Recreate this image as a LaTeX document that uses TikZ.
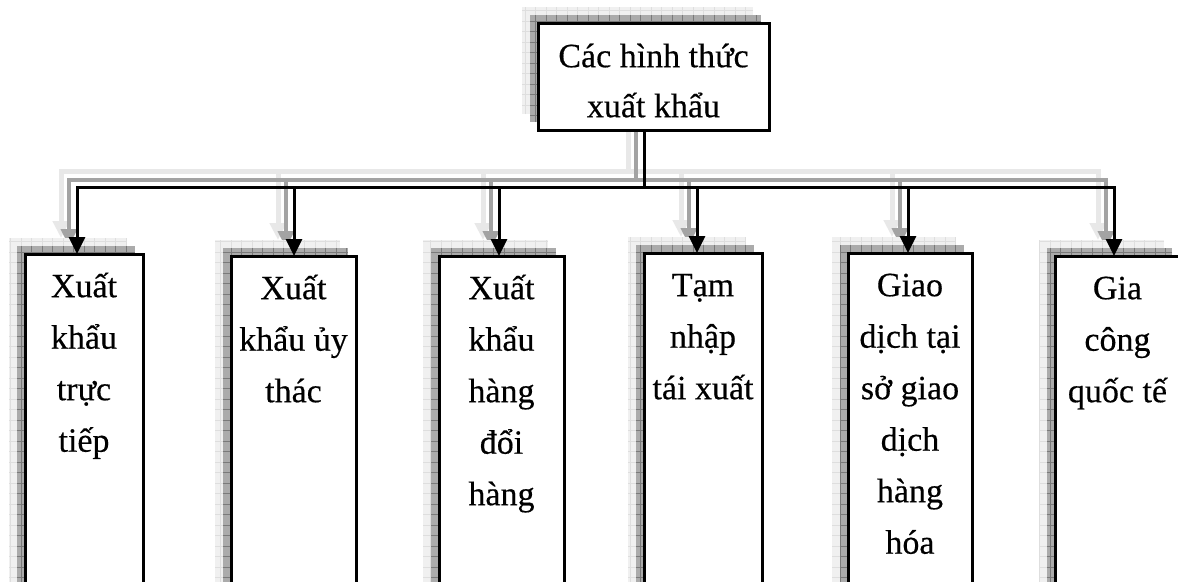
\documentclass[tikz,border=0pt]{standalone}
\usepackage{fontspec}
\setmainfont[FakeBold=0.4]{Liberation Serif}
\usetikzlibrary{arrows.meta}
\pgfdeclarelayer{bg}
\pgfdeclarelayer{lsh}
\pgfdeclarelayer{bsh}
\pgfsetlayers{bg,lsh,bsh,main}
\newcommand\fl{\rule{0pt}{36pt}}
\tikzset{
  box/.style={draw, line width=3pt, fill=white, outer sep=0pt, inner sep=0pt, anchor=north west},
  txt/.style={font=\fontsize{34}{51.5}\selectfont, align=center, inner sep=0pt, anchor=north},
  conn/.style={line width=3pt, black},
  tip/.style={-{Triangle[length=17pt,width=16pt]}},
  darksh/.style={fill=black!33, path picture={\draw[black!52,line width=0.6pt,step=10.5pt] (path picture bounding box.south west) grid (path picture bounding box.north east);}},
  lightsh/.style={fill=black!6, path picture={\draw[black!13,line width=0.6pt,step=10.5pt] (path picture bounding box.south west) grid (path picture bounding box.north east);}},
  dline/.style={line width=4pt, black!36},
  lline/.style={line width=5pt, black!9},
}
\newcommand\cpaths[1]{%
  \draw[#1] (top.south -| hub) -- (hub);
  \draw[#1,tip] (hub) -| ([xshift=-7pt]b1.north);
  \draw[#1,tip] (hub) -| ([xshift=0.5pt]b2.north);
  \draw[#1,tip] (hub) -| ([xshift=-2.5pt]b3.north);
  \draw[#1,tip] (hub) -| ([xshift=-6pt]b4.north);
  \draw[#1,tip] (hub) -| ([xshift=-2pt]b5.north);
  \draw[#1,tip] (hub) -| ([xshift=-3.5pt]b6.north);
}
\newcommand\boxshadow[1]{%
  \path[lightsh] ([xshift=-16pt,yshift=16pt]#1.north west) rectangle ([xshift=-16pt,yshift=16pt]#1.south east);
  \path[darksh] ([xshift=-8pt,yshift=8pt]#1.north west) rectangle ([xshift=-8pt,yshift=8pt]#1.south east);
}
\begin{document}
\begin{tikzpicture}[x=1pt,y=-1pt]
\path[use as bounding box] (0,0) rectangle (1178,581);
\begin{pgfonlayer}{bg}
  \fill[white] (0,0) rectangle (1178,581);
\end{pgfonlayer}

% boxes
\node[box, minimum width=231pt, minimum height=107pt] (top) at (538,23) {};
\node[box, minimum width=118pt, minimum height=360pt] (b1) at (25,254) {};
\node[box, minimum width=125pt, minimum height=360pt] (b2) at (231,256) {};
\node[box, minimum width=125pt, minimum height=360pt] (b3) at (439,256) {};
\node[box, minimum width=118pt, minimum height=360pt] (b4) at (644,253) {};
\node[box, minimum width=124pt, minimum height=360pt] (b5) at (848,253) {};
\node[box, minimum width=125pt, minimum height=360pt] (b6) at (1055,256) {};

% texts
\node[txt, font=\fontsize{34}{50}\selectfont] (t0) at ([yshift=-8pt]top.north) {\fl Các hình thức\\xuất khẩu};
\node[txt] (t1) at ([yshift=-7pt]b1.north) {\fl Xuất\\khẩu\\trực\\tiếp};
\node[txt] (t2) at ([yshift=-7pt]b2.north) {\fl Xuất\\khẩu ủy\\thác};
\node[txt] (t3) at ([yshift=-7pt]b3.north) {\fl Xuất\\khẩu\\hàng\\đổi\\hàng};
\node[txt] (t4) at ([yshift=-7pt]b4.north) {\fl Tạm\\nhập\\tái xuất};
\node[txt] (t5) at ([yshift=-7pt]b5.north) {\fl Giao\\dịch tại\\sở giao\\dịch\\hàng\\hóa};
\node[txt] (t6) at ([yshift=-7pt]b6.north) {\fl Gia\\công\\quốc tế};

\coordinate (hub) at (644,187.5);

% main connectors
\cpaths{conn}

% box shadows
\begin{pgfonlayer}{bsh}
  \boxshadow{top}
  \boxshadow{b1}
  \boxshadow{b2}
  \boxshadow{b3}
  \boxshadow{b4}
  \boxshadow{b5}
  \boxshadow{b6}
\end{pgfonlayer}

% connector shadows
\begin{pgfonlayer}{lsh}
  \begin{scope}[transform canvas={xshift=-16pt,yshift=16pt}]
    \cpaths{lline}
  \end{scope}
  \begin{scope}[transform canvas={xshift=-8pt,yshift=8pt}]
    \cpaths{dline}
  \end{scope}
\end{pgfonlayer}
\end{tikzpicture}
\end{document}
